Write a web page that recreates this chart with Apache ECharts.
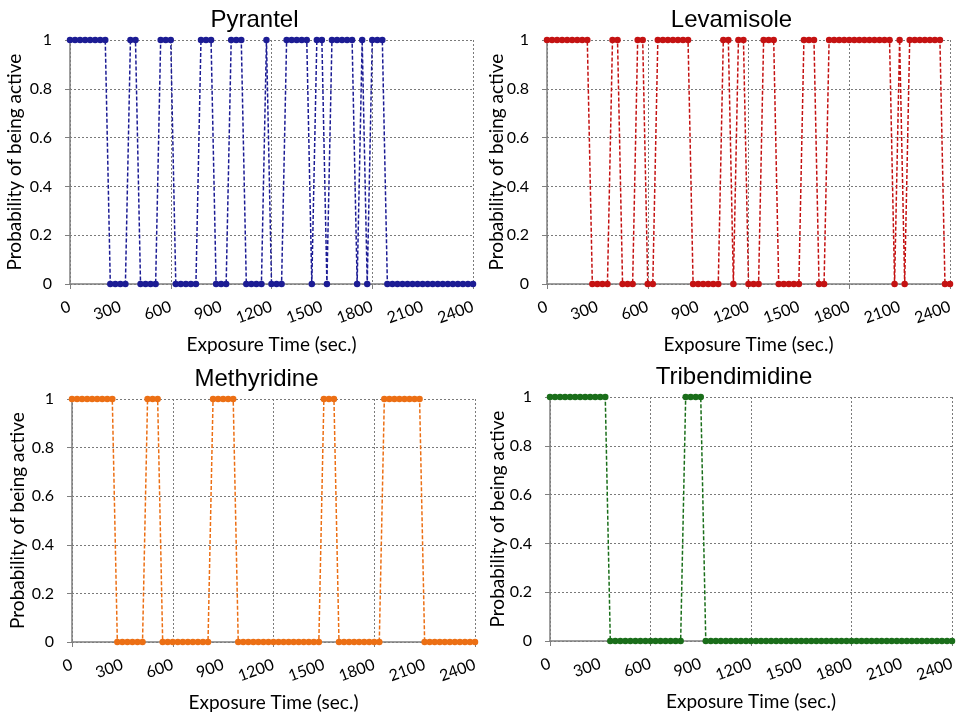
<!DOCTYPE html>
<html>
<head>
<meta charset="utf-8">
<script src="https://cdn.jsdelivr.net/npm/echarts@6/dist/echarts.min.js"></script>
<style>
  html, body { margin: 0; padding: 0; background: #fff; }
  #chart { width: 956px; height: 714px; }
</style>
</head>
<body>
<div id="chart"></div>
<script>
// ─────────────────────────────────────────
// DATA  (sampled every 30 s, 0 … 2400 s)
// ─────────────────────────────────────────
const times = [
  0, 30, 60, 90, 120, 150, 180, 210, 240, 270,
  300, 330, 360, 390, 420, 450, 480, 510, 540, 570,
  600, 630, 660, 690, 720, 750, 780, 810, 840, 870,
  900, 930, 960, 990, 1020, 1050, 1080, 1110, 1140, 1170,
  1200, 1230, 1260, 1290, 1320, 1350, 1380, 1410, 1440, 1470,
  1500, 1530, 1560, 1590, 1620, 1650, 1680, 1710, 1740, 1770,
  1800, 1830, 1860, 1890, 1920, 1950, 1980, 2010, 2040, 2070,
  2100, 2130, 2160, 2190, 2220, 2250, 2280, 2310, 2340, 2370,
  2400
]

const pyrantel = [
  1, 1, 1, 1, 1, 1, 1, 1, 0, 0,
  0, 0, 1, 1, 0, 0, 0, 0, 1, 1,
  1, 0, 0, 0, 0, 0, 1, 1, 1, 0,
  0, 0, 1, 1, 1, 0, 0, 0, 0, 1,
  0, 0, 0, 1, 1, 1, 1, 1, 0, 1,
  1, 0, 1, 1, 1, 1, 1, 0, 1, 0,
  1, 1, 1, 0, 0, 0, 0, 0, 0, 0,
  0, 0, 0, 0, 0, 0, 0, 0, 0, 0,
  0
]

const levamisole = [
  1, 1, 1, 1, 1, 1, 1, 1, 1, 0,
  0, 0, 0, 1, 1, 0, 0, 0, 1, 1,
  0, 0, 1, 1, 1, 1, 1, 1, 1, 0,
  0, 0, 0, 0, 0, 1, 1, 0, 1, 1,
  0, 0, 0, 1, 1, 1, 0, 0, 0, 0,
  0, 1, 1, 1, 0, 0, 1, 1, 1, 1,
  1, 1, 1, 1, 1, 1, 1, 1, 1, 0,
  1, 0, 1, 1, 1, 1, 1, 1, 1, 0,
  0
]

const methyridine = [
  1, 1, 1, 1, 1, 1, 1, 1, 1, 0,
  0, 0, 0, 0, 0, 1, 1, 1, 0, 0,
  0, 0, 0, 0, 0, 0, 0, 0, 1, 1,
  1, 1, 1, 0, 0, 0, 0, 0, 0, 0,
  0, 0, 0, 0, 0, 0, 0, 0, 0, 0,
  1, 1, 1, 0, 0, 0, 0, 0, 0, 0,
  0, 0, 1, 1, 1, 1, 1, 1, 1, 1,
  0, 0, 0, 0, 0, 0, 0, 0, 0, 0,
  0
]

const tribendimidine = [
  1, 1, 1, 1, 1, 1, 1, 1, 1, 1,
  1, 1, 0, 0, 0, 0, 0, 0, 0, 0,
  0, 0, 0, 0, 0, 0, 0, 1, 1, 1,
  1, 0, 0, 0, 0, 0, 0, 0, 0, 0,
  0, 0, 0, 0, 0, 0, 0, 0, 0, 0,
  0, 0, 0, 0, 0, 0, 0, 0, 0, 0,
  0, 0, 0, 0, 0, 0, 0, 0, 0, 0,
  0, 0, 0, 0, 0, 0, 0, 0, 0, 0,
  0
]

const drugs = ['Pyrantel', 'Levamisole', 'Methyridine', 'Tribendimidine']
const values = [pyrantel, levamisole, methyridine, tribendimidine]
const colors = ['#1c1c94', '#c41212', '#ec6f14', '#1a6e1a']

// ─────────────────────────────────────────
// LAYOUT (one grid per drug)
// ─────────────────────────────────────────
const grids = [
  { left: 70, top: 40, width: 403, height: 244 },
  { left: 547, top: 40, width: 403, height: 244 },
  { left: 72, top: 399, width: 403, height: 243 },
  { left: 550, top: 397, width: 402, height: 244 },
].map(g => ({ ...g, outerBoundsMode: 'none', containLabel: false }))

// distance of the y-axis title from its axis, per panel
const yNameGaps = [46, 41, 45, 43]

const FONT = 'Lato, "Open Sans", sans-serif'
const TITLE_FONT = '"Liberation Sans", Arial, sans-serif'
const AXIS_GRAY = '#7f7f7f'
const gridLine = { type: [2, 2], color: '#7a7a7a', width: 1 }

// titles sit a bit left of the plot centre (centred on the whole chart area)
const titles = grids.map((g, i) => ({
  text: drugs[i],
  left: g.left + g.width / 2 - 17,
  top: g.top - 32,
  textAlign: 'center',
  padding: 0,
  textStyle: { fontFamily: TITLE_FONT, fontSize: 24, fontWeight: 'normal', color: '#000' },
}))

const xAxes = grids.map((g, i) => ({
  type: 'category',
  gridIndex: i,
  data: times,
  boundaryGap: false,
  name: 'Exposure Time (sec.)',
  nameLocation: 'middle',
  nameGap: 51,
  nameMoveOverlap: false,
  nameTextStyle: { fontFamily: FONT, fontSize: 19, color: '#000' },
  axisLine: { lineStyle: { color: AXIS_GRAY, width: 1.5 } },
  axisTick: { show: true, interval: 19, length: 5, lineStyle: { color: AXIS_GRAY } },
  axisLabel: { interval: 9, rotate: 20, margin: 22, fontFamily: FONT, fontSize: 16, color: '#000' },
  splitLine: { show: true, interval: 19, lineStyle: gridLine },
}))

const yAxes = grids.map((g, i) => ({
  type: 'value',
  gridIndex: i,
  min: 0,
  max: 1,
  interval: 0.2,
  name: 'Probability of being active',
  nameLocation: 'middle',
  nameGap: yNameGaps[i],
  nameMoveOverlap: false,
  nameTextStyle: { fontFamily: FONT, fontSize: 19, color: '#000' },
  axisLine: { show: true, lineStyle: { color: AXIS_GRAY, width: 1.5 } },
  axisTick: { show: true, length: 5, lineStyle: { color: AXIS_GRAY } },
  axisLabel: { margin: 18, fontFamily: FONT, fontSize: 16, color: '#000' },
  splitLine: { show: true, lineStyle: gridLine },
}))

const series = values.map((v, i) => ({
  name: drugs[i],
  type: 'line',
  xAxisIndex: i,
  yAxisIndex: i,
  data: v,
  symbol: 'circle',
  symbolSize: 6.5,
  showAllSymbol: true,
  color: colors[i],
  lineStyle: { type: [4, 2], width: 1.5, color: colors[i] },
  animation: false,
}))

const chart = echarts.init(document.getElementById('chart'))
chart.setOption({
  animation: false,
  title: titles,
  grid: grids,
  xAxis: xAxes,
  yAxis: yAxes,
  series,
})
</script>
</body>
</html>
